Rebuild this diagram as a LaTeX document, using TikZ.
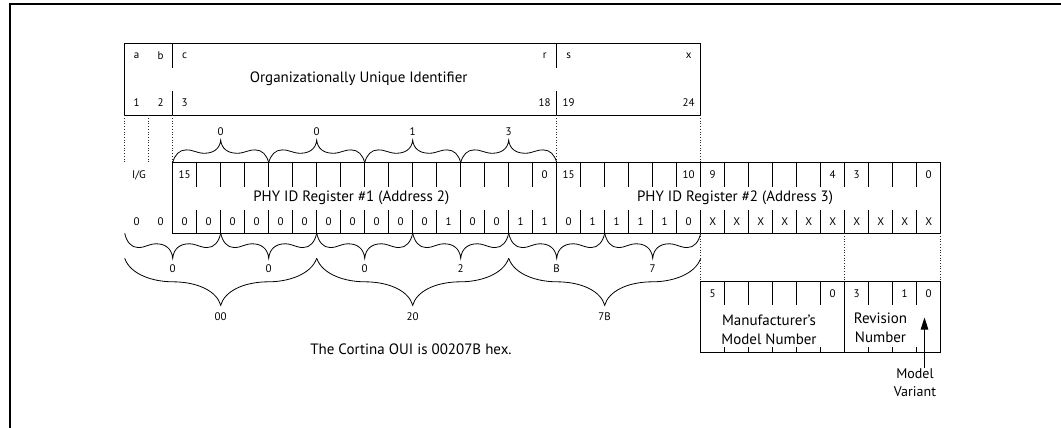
\documentclass[tikz,border=0pt]{standalone}
\usepackage{fontspec}
\setmainfont{PT Sans}
\usetikzlibrary{arrows.meta}
\newcommand\wavybrace[4]{%
  \pgfmathsetmacro\bxa{#1}\pgfmathsetmacro\bw{(#2)-(#1)}%
  \draw[brc, shift={(\bxa,#3)}, xscale=\bw, yscale=#4]
   (0,0) .. controls (0.02,-0.35) and (0.07,-0.57) .. (0.14,-0.57)
   .. controls (0.22,-0.57) and (0.25,-0.42) .. (0.33,-0.42)
   .. controls (0.42,-0.42) and (0.49,-0.6) .. (0.5,-1)
   .. controls (0.51,-0.6) and (0.58,-0.42) .. (0.67,-0.42)
   .. controls (0.75,-0.42) and (0.78,-0.57) .. (0.86,-0.57)
   .. controls (0.93,-0.57) and (0.98,-0.35) .. (1,0);}
\newcommand\plainbrace[4]{%
  \pgfmathsetmacro\bxa{#1}\pgfmathsetmacro\bw{(#2)-(#1)}%
  \draw[brc, shift={(\bxa,#3)}, xscale=\bw, yscale=#4]
   (0,0) .. controls (0.03,-0.35) and (0.15,-0.5) .. (0.25,-0.5)
   .. controls (0.38,-0.5) and (0.48,-0.7) .. (0.5,-1)
   .. controls (0.52,-0.7) and (0.62,-0.5) .. (0.75,-0.5)
   .. controls (0.85,-0.5) and (0.97,-0.35) .. (1,0);}
\begin{document}
\begin{tikzpicture}[x=1pt,y=-1pt,
  ln/.style={line width=0.9pt,black},
  dotln/.style={line width=0.7pt,dotted,black!85},
  brc/.style={line width=0.8pt,black},
  sm/.style={font=\fontsize{11}{12}\selectfont,inner sep=0pt},
  big/.style={font=\fontsize{15}{17}\selectfont,inner sep=0pt},
  mid/.style={font=\fontsize{15}{19}\selectfont,inner sep=0pt,align=center},
  lbl/.style={font=\fontsize{14}{18}\selectfont,inner sep=1pt,align=center}]
\useasboundingbox (0,0) rectangle (1061,428);
% cropped outer frame
\draw[line width=2pt] (10.2,428) -- (10.2,4.3) -- (1061,4.3);

% ---------- OUI box ----------
\draw[ln] (124.7,43.3) rectangle (700.7,115.3);
\foreach \k in {2,18}
  \draw[ln] ({124.7+24*\k},43.3) -- ++(0,25) ({124.7+24*\k},115.3) -- ++(0,-24.3);
\node[big] (ouititle) at (358.7,79) {Organizationally Unique Identifier};
\foreach \t/\k [count=\i] in {a/0,b/1,c/2,r/17,s/18,x/23}
  \node[sm] (oa\i) at ({136.7+24*\k},56) {\t};
\foreach \t/\k [count=\i] in {1/0,2/1,3/2,18/17,19/18,24/23}
  \node[sm] (ob\i) at ({136.7+24*\k},103) {\t};
% dotted guides
\foreach \k in {0,1,2,18,24}
  \draw[dotln] ({124.7+24*\k},115.3) -- ({124.7+24*\k},162.7);

% ---------- PHY ID registers ----------
\draw[ln] (172.7,162.7) rectangle (940.7,233.3);
\draw[ln] (556.7,162.7) -- (556.7,233.3);
\foreach \k in {3,...,17,19,20,...,33}
  \draw[ln] ({124.7+24*\k},162.7) -- ++(0,24) ({124.7+24*\k},233.3) -- ++(0,-23.3);
\node[sm] (ig) at (139,175) {I/G};
\foreach \t/\k [count=\i] in {15/2,0/17,15/18,10/23,9/24,4/29,3/30,0/33}
  \node[sm] (rt\i) at ({136.7+24*\k},175) {\t};
\node[big] (reg1) at (351.3,198) {PHY ID Register \#1 (Address 2)};
\node[big] (reg2) at (735,198) {PHY ID Register \#2 (Address 3)};
\foreach \v [count=\i from 0] in {0,0,0,0,0,0,0,0,0,0,0,0,0,1,0,0,1,1,0,1,1,1,1,0,X,X,X,X,X,X,X,X,X,X}
  \node[sm] (rb\i) at ({136.7+24*\i},221.7) {\v};

% ---------- braces above register 1 ----------
\foreach \k/\t [count=\i] in {2/0,6/0,10/1,14/3}{
  \wavybrace{124.7+24*\k}{124.7+24*(\k+4)}{162.7}{22.5}
  \node[sm] (tb\i) at ({124.7+24*(\k+2)},131.5) {\t};
}
% ---------- nibble braces below ----------
\foreach \k/\t [count=\i] in {0/0,4/0,8/0,12/2,16/B,20/7}{
  \wavybrace{124.7+24*\k}{124.7+24*(\k+4)}{233.3}{-25}
  \node[sm] (nb\i) at ({124.7+24*(\k+2)},269) {\t};
}
% ---------- byte braces ----------
\foreach \k/\t [count=\i] in {0/00,8/20,16/7B}{
  \plainbrace{124.7+24*\k}{124.7+24*(\k+8)}{258.3}{-47}
  \node[sm] (bb\i) at ({124.7+24*(\k+4)},316.7) {\t};
}
\node[big] (note) at (411,349) {The Cortina OUI is 00207B hex.};

% ---------- register 2 breakdown ----------
\foreach \k in {24,30,34}
  \draw[dotln] ({124.7+24*\k},233.3) -- ({124.7+24*\k},281.7);
\draw[ln] (700.7,281.7) rectangle (940.7,352.7);
\draw[ln] (844.7,281.7) -- (844.7,352.7);
\foreach \k in {25,...,29,31,32,33}
  \draw[ln] ({124.7+24*\k},281.7) -- ++(0,23.3) ({124.7+24*\k},352.7) -- ++(0,-6);
\foreach \t/\k [count=\i] in {5/24,0/29,3/30,1/32,0/33}
  \node[sm] (mt\i) at ({136.7+24*\k},293.3) {\t};
\node[mid] (mfr) at (769,329.6) {Manufacturer's\\Model Number};
\node[mid] (rev) at (880.5,328) {Revision\\Number};
\node[lbl] (mv) at (915,383) {Model\\Variant};
\coordinate (mvtip) at (924.5,317.5);
\draw[line width=0.9pt,-{Triangle[length=12pt,width=7.5pt]}] (mv.north -| mvtip) -- (mvtip);
\end{tikzpicture}
\end{document}
